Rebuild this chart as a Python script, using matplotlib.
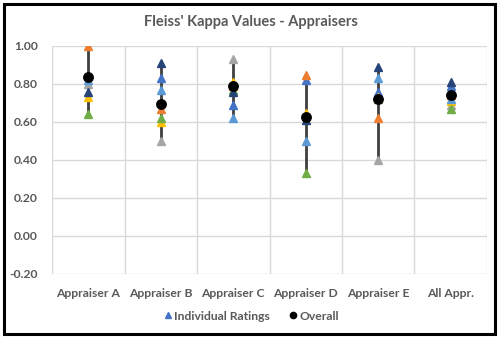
import matplotlib
matplotlib.use("Agg")
import matplotlib.pyplot as plt
from matplotlib.patches import Rectangle
from matplotlib.lines import Line2D
import numpy as np

categories = ["Appraiser A", "Appraiser B", "Appraiser C", "Appraiser D", "Appraiser E", "All Appr."]
# individual rating series (one per rater/trial), colours as in Excel theme
rating_blue      = [0.84, 0.83, 0.69, 0.82, 0.76, 0.79]
rating_orange    = [1.00, 0.67, 0.79, 0.85, 0.62, 0.74]
rating_gray      = [0.80, 0.50, 0.93, 0.63, 0.40, 0.69]
rating_yellow    = [0.73, 0.60, 0.81, 0.65, 0.73, 0.71]
rating_lightblue = [0.82, 0.77, 0.62, 0.50, 0.83, 0.72]
rating_green     = [0.64, 0.62, 0.77, 0.33, 0.72, 0.67]
rating_darkblue  = [0.76, 0.91, 0.76, 0.61, 0.89, 0.81]
overall          = [0.835, 0.695, 0.79, 0.625, 0.72, 0.74]
yticks = [-0.2, 0.0, 0.2, 0.4, 0.6, 0.8, 1.0]

series = [
    (rating_blue, "#4472C4"),
    (rating_orange, "#ED7D31"),
    (rating_gray, "#A5A5A5"),
    (rating_yellow, "#FFC000"),
    (rating_lightblue, "#5B9BD5"),
    (rating_green, "#70AD47"),
    (rating_darkblue, "#264478"),
]

plt.rcParams['font.family'] = ['Lato', 'DejaVu Sans']
plt.rcParams['font.weight'] = 'bold'
W, H = 501, 338
fig = plt.figure(figsize=(W/100, H/100), dpi=100)
ax = fig.add_axes([52/W, (H-274)/H, (487-52)/W, (274-46)/H])

x = np.arange(len(categories))
allvals = np.array([s for s, _ in series])
lo = allvals.min(axis=0)
hi = allvals.max(axis=0)
ax.vlines(x, lo, hi, color="#3F3F3F", lw=2.0, zorder=2)
for vals, col in series:
    ax.plot(x, vals, linestyle="none", marker="^", ms=5.2, color=col, mec=col, zorder=3)
ax.plot(x, overall, linestyle="none", marker="o", ms=6.8, color="black", zorder=4)

ax.set_xlim(-0.5, len(categories)-0.5)
ax.set_ylim(-0.2, 1.0)
ax.set_yticks(yticks)
ax.set_yticklabels([f"{v:.2f}" for v in yticks], fontweight="bold")
ax.set_xticks(x)
ax.set_xticklabels(categories, fontweight="bold")
ax.set_xticks(np.arange(len(categories)+1)-0.5, minor=True)
ax.grid(True, axis="y", which="major", color="#D9D9D9", lw=1)
ax.grid(True, axis="x", which="minor", color="#D9D9D9", lw=1)
ax.set_axisbelow(True)
for s in ax.spines.values():
    s.set_visible(False)
ax.tick_params(which="both", length=0)
ax.tick_params(axis="x", pad=10, labelsize=8.7, labelcolor="#595959")
ax.tick_params(axis="y", pad=10, labelsize=8.7, labelcolor="#595959")

fig.text(0.5, (H-22)/H, "Fleiss' Kappa Values - Appraisers", ha="center", va="center",
         fontsize=10.5, fontweight="bold", color="#595959")

handles = [Line2D([], [], ls="none", marker="^", ms=4.5, color="#4472C4"),
           Line2D([], [], ls="none", marker="o", ms=4.5, color="black")]
fig.legend(handles, ["Individual Ratings", "Overall"], loc="center", bbox_to_anchor=(0.5, (H-316)/H),
           ncol=2, frameon=False, handletextpad=0.0, columnspacing=1.4, handlelength=1.0,
           prop={"size": 8.7, "weight": "bold"}, labelcolor="#595959")

fig.patches.append(Rectangle((4/W, 4/H), (495-4)/W, (334-4)/H, transform=fig.transFigure,
                             fill=False, ec="black", lw=2.2))
fig.savefig("out.png", dpi=100, facecolor="white")
